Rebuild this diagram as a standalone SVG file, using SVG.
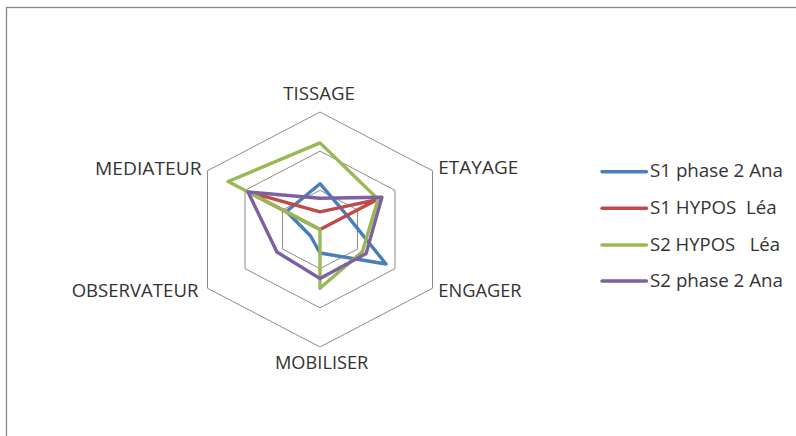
<svg xmlns="http://www.w3.org/2000/svg" width="796" height="436" viewBox="0 0 796 436">
<style>
.grid{fill:none;stroke:#8c8c8c;stroke-width:1}
.lbl{font-family:"Open Sans","Liberation Sans",sans-serif;font-size:17.5px;fill:#333333}
.s{fill:none;stroke-width:3.4;stroke-linejoin:round;stroke-linecap:round}
.leg{stroke-width:3.4;stroke-linecap:round}
.blue{stroke:#4a7ebb}.red{stroke:#be4b48}.green{stroke:#98b954}.purple{stroke:#7d60a0}
</style>
<rect x="0" y="0" width="796" height="436" fill="#ffffff"/>
<rect x="6.5" y="7.5" width="800" height="440" fill="none" stroke="#878787" stroke-width="1.3"/>
<g id="grid">
<polygon class="grid" points="320,112 432.5,170.75 432.5,288.25 320,347 207.5,288.25 207.5,170.75"/>
<polygon class="grid" points="320,151.17 395,190.33 395,268.67 320,307.83 245,268.67 245,190.33"/>
<polygon class="grid" points="320,190.33 357.5,209.92 357.5,249.08 320,268.67 282.5,249.08 282.5,209.92"/>
</g>
<g id="series">
<polygon class="s blue" points="320,183.7 347,215.4 386,264 320,253 310.6,236 286.5,211.5"/>
<polygon class="s red" points="320,211.9 377,199.7 320,229.5 320,229.5 320,229.5 248,191.9"/>
<polygon class="s green" points="320,142.9 378.1,199.2 362.4,251.6 320,288.3 320,229.5 228.1,181.5"/>
<polygon class="s purple" points="320,198.2 381.9,197.2 366.1,253.6 320,278.5 276.9,252 248,191.9"/>
</g>
<g id="axis-labels" class="lbl">
<text x="283.3" y="100" textLength="71.7" lengthAdjust="spacingAndGlyphs">TISSAGE</text>
<text x="438.3" y="174" textLength="80" lengthAdjust="spacingAndGlyphs">ETAYAGE</text>
<text x="438.3" y="296.7" textLength="83.3" lengthAdjust="spacingAndGlyphs">ENGAGER</text>
<text x="275" y="369.3" textLength="93.3" lengthAdjust="spacingAndGlyphs">MOBILISER</text>
<text x="71.7" y="296.7" textLength="126.7" lengthAdjust="spacingAndGlyphs">OBSERVATEUR</text>
<text x="95" y="175" textLength="106.7" lengthAdjust="spacingAndGlyphs">MEDIATEUR</text>
</g>
<g id="legend">
<line class="leg blue" x1="602" y1="171.7" x2="646.5" y2="171.7"/>
<line class="leg red" x1="602" y1="208.3" x2="646.5" y2="208.3"/>
<line class="leg green" x1="602" y1="245" x2="646.5" y2="245"/>
<line class="leg purple" x1="602" y1="281" x2="646.5" y2="281"/>
<g class="lbl">
<text x="650" y="177.3" textLength="133" lengthAdjust="spacingAndGlyphs">S1 phase 2 Ana</text>
<text x="650" y="214" textLength="126.7" lengthAdjust="spacingAndGlyphs">S1 HYPOS &#160;Léa</text>
<text x="650" y="250.7" textLength="130" lengthAdjust="spacingAndGlyphs">S2 HYPOS &#160; Léa</text>
<text x="650" y="286.7" textLength="133" lengthAdjust="spacingAndGlyphs">S2 phase 2 Ana</text>
</g>
</g>
</svg>
